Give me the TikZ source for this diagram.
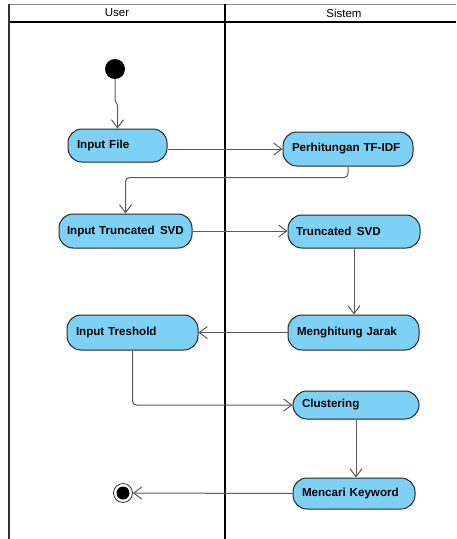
\documentclass[tikz,border=0pt]{standalone}
\usepackage{fontspec}
\setmainfont{Liberation Sans}
\usetikzlibrary{arrows.meta}
\definecolor{actfill}{RGB}{125,209,244}
\definecolor{connclr}{RGB}{90,90,90}
\tikzset{
  act/.style={draw=black!85, line width=1pt, fill=actfill, rounded corners=14pt,
    inner sep=0pt, align=left, font=\bfseries\fontsize{11.6}{13}\selectfont},
  conn/.style={draw=connclr, line width=1pt, -{Straight Barb[length=8pt,width=12pt,line width=1pt]}},
  lanetext/.style={font=\fontsize{11.5}{13}\selectfont}
}
\begin{document}
\begin{tikzpicture}[x=1pt,y=-1pt]
\useasboundingbox (0,0) rectangle (456,539);
% swimlanes
\draw[line width=0.7pt, black!45] (9,4) -- (456,4);
\draw[line width=1.5pt, black] (9,22) -- (456,22);
\draw[line width=1.8pt, black!80] (9,4) -- (9,539);
\draw[line width=1.8pt, black] (225,4) -- (225,539);
\node[lanetext] (luser) at (117,13) {User};
\node[lanetext] (lsis) at (344,13) {Sistem};
% start / end
\node[circle, fill=black, minimum size=20pt, inner sep=0pt] (start) at (115,69) {};
\node[circle, draw=black!80, line width=0.8pt, minimum size=19pt, inner sep=0pt,
  path picture={\fill[black] (path picture bounding box.center) circle (6.5pt);}] (end) at (123,493) {};
% actions
\node[act, minimum width=99pt, minimum height=33pt, text width=81pt] (infile) at (117.5,145.5) {Input File};
\node[act, minimum width=130pt, minimum height=34pt, text width=112pt] (tfidf) at (348,149) {Perhitungan TF-IDF};
\node[act, minimum width=133pt, minimum height=34pt, text width=117pt] (intsvd) at (125.5,231) {\mbox{Input Truncated\hspace{1.5pt} SVD}};
\node[act, minimum width=132pt, minimum height=33pt, text width=116pt] (tsvd) at (354,231.5) {Truncated\hspace{1.5pt} SVD};
\node[act, minimum width=131pt, minimum height=35pt, text width=113pt] (intres) at (132.5,332.5) {Input Treshold};
\node[act, minimum width=131pt, minimum height=35pt, text width=113pt] (jarak) at (353.5,332.5) {Menghitung Jarak};
\node[act, minimum width=126pt, minimum height=28pt, text width=108pt] (clust) at (356,405) {Clustering};
\node[act, minimum width=122pt, minimum height=31pt, text width=104pt] (keyw) at (354,493.5) {Mencari Keyword};
% connectors
\draw[conn] (start.south) -- ++(0,21) -- ++(2.5,5) -- (infile.north);
\draw[conn] (infile.east |- tfidf.west) -- (tfidf.west);
\draw[conn, rounded corners=4pt] (tfidf.south) -- ++(0,11) -| (intsvd.north);
\draw[conn] (intsvd.east) -- (intsvd.east -| tsvd.west);
\draw[conn] (tsvd.south) -- (tsvd.south |- jarak.north);
\draw[conn] (jarak.west) -- (intres.east);
\draw[conn, rounded corners=4pt] (intres.south) |- (clust.west);
\draw[conn] (clust.south) -- (clust.south |- keyw.north);
\draw[conn] (keyw.west) -- (end);
\end{tikzpicture}
\end{document}
